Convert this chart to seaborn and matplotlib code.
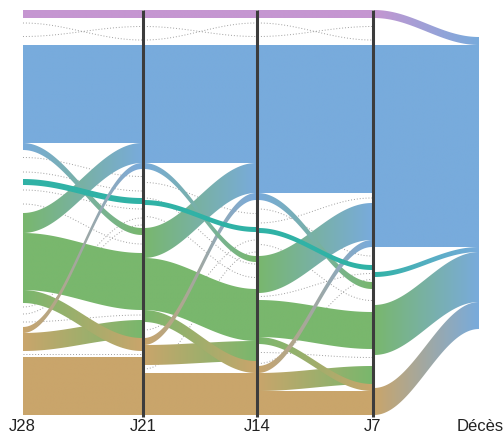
import numpy as np
import matplotlib
matplotlib.use("Agg")
import matplotlib.pyplot as plt
from matplotlib.patches import Polygon
import seaborn as sns

# time points (axes of the alluvial plot)
time_labels = ["J28", "J21", "J14", "J7", "Décès"]

# states, stacked top to bottom on each axis
states = ["violet", "bleu", "turquoise", "vert", "ocre", "Décès", "Survie"]
state_colors = ["#C596D1", "#78ABDC", "#30B2A6", "#79B76D", "#C9A56B", "#78ABDC", "#FFFFFF"]

# flows between two time points: (from, to, patients, main flow)
# minor flows (0) are only drawn as a thin dotted line
flows_j28_j21 = [
    ("violet", "violet", 8, 1), ("violet", "bleu", 10, 0),
    ("bleu", "violet", 17, 0), ("bleu", "bleu", 98, 1), ("bleu", "vert", 7, 1), ("bleu", "turquoise", 15, 0),
    ("turquoise", "turquoise", 14, 0), ("turquoise", "turquoise", 6, 1), ("turquoise", "turquoise", 10, 0),
    ("turquoise", "vert", 18, 0),
    ("vert", "bleu", 20, 1), ("vert", "vert", 57, 1), ("vert", "ocre", 13, 1), ("vert", "turquoise", 8, 0),
    ("ocre", "turquoise", 6, 0), ("ocre", "vert", 10, 0), ("ocre", "bleu", 6, 1), ("ocre", "vert", 18, 1),
    ("ocre", "ocre", 6, 0), ("ocre", "ocre", 58, 1),
]
flows_j21_j14 = [
    ("violet", "violet", 8, 1), ("violet", "bleu", 17, 0),
    ("bleu", "violet", 10, 0), ("bleu", "bleu", 118, 1), ("bleu", "vert", 6, 1),
    ("turquoise", "turquoise", 27, 0), ("turquoise", "vert", 4, 0), ("turquoise", "turquoise", 5, 1),
    ("turquoise", "vert", 23, 0),
    ("vert", "bleu", 30, 1), ("vert", "vert", 52, 1), ("vert", "ocre", 12, 1), ("vert", "turquoise", 16, 0),
    ("ocre", "bleu", 7, 1), ("ocre", "vert", 20, 1), ("ocre", "turquoise", 8, 0), ("ocre", "ocre", 42, 1),
]
flows_j14_j7 = [
    ("violet", "violet", 8, 1), ("violet", "bleu", 10, 0),
    ("bleu", "violet", 17, 0), ("bleu", "bleu", 148, 1), ("bleu", "vert", 7, 1),
    ("turquoise", "turquoise", 18, 0), ("turquoise", "bleu", 10, 0), ("turquoise", "turquoise", 5, 1),
    ("turquoise", "vert", 23, 0),
    ("vert", "bleu", 37, 1), ("vert", "turquoise", 7, 0), ("vert", "vert", 37, 1), ("vert", "ocre", 7, 1),
    ("vert", "vert", 17, 0),
    ("ocre", "turquoise", 5, 0), ("ocre", "bleu", 7, 1), ("ocre", "vert", 18, 1), ("ocre", "ocre", 24, 1),
]
flows_j7_deces = [
    ("violet", "Décès", 8, 1), ("violet", "Survie", 17, 0),
    ("bleu", "Survie", 10, 0), ("bleu", "Décès", 202, 1),
    ("turquoise", "Survie", 25, 0), ("turquoise", "Décès", 5, 1), ("turquoise", "Survie", 5, 0),
    ("vert", "Survie", 23, 0), ("vert", "Décès", 50, 1), ("vert", "Survie", 29, 0),
    ("ocre", "Survie", 4, 0), ("ocre", "Décès", 27, 1),
]
segments = [flows_j28_j21, flows_j21_j14, flows_j14_j7, flows_j7_deces]

# layout
axis_x = [22, 143, 257, 373, 480]
deces_top = 27

sns.set_theme(style="white")
plt.rcParams["font.family"] = ["Liberation Sans", "DejaVu Sans"]
fig = plt.figure(figsize=(5.04, 4.38), dpi=100)
ax = fig.add_axes([0, 20 / 438, 1, 418 / 438])

rank = {s: i for i, s in enumerate(states)}
color = dict(zip(states, state_colors))


def stack(flows, key, start=0):
    order = sorted(range(len(flows)), key=key)
    pos, y = {}, start
    for i in order:
        pos[i] = y
        y += flows[i][2]
    return pos


t = np.linspace(0, 1, 80)
s = (1 - np.cos(np.pi * t)) / 2

for k, flows in enumerate(segments):
    left = stack(flows, lambda i: (rank[flows[i][0]], i))
    right = stack(flows, lambda i: (rank[flows[i][1]], rank[flows[i][0]], i),
                  start=deces_top if k == 3 else 0)
    x = axis_x[k] + 1 + (axis_x[k + 1] - axis_x[k] - 2) * t
    # minor flows first, then main flows from widest to thinnest
    for i, (src, dst, n, main) in enumerate(flows):
        if main or dst == "Survie":
            continue
        ymid = left[i] + (right[i] - left[i]) * s + n / 2
        ax.plot(x, ymid, ls=(0, (1, 2)), lw=0.7, color="#8f8f8f", alpha=0.85, zorder=1)
    main_idx = sorted([i for i, f in enumerate(flows) if f[3]], key=lambda i: -flows[i][2])
    for z, i in enumerate(main_idx):
        src, dst, n, _ = flows[i]
        ytop = left[i] + (right[i] - left[i]) * s
        ybot = ytop + n
        verts = np.concatenate([np.column_stack([x, ytop]), np.column_stack([x[::-1], ybot[::-1]])])
        patch = Polygon(verts, closed=True, facecolor="none", edgecolor="none")
        ax.add_patch(patch)
        grad = np.array(sns.blend_palette([color[src], color[dst]], n_colors=256))[np.newaxis, :, :]
        img = ax.imshow(grad, extent=[x[0], x[-1], ybot.max(), ytop.min()], aspect="auto",
                        interpolation="bilinear", zorder=2 + z * 0.01)
        img.set_clip_path(patch)

ax.vlines(axis_x[1:4], 0, 407, colors="#3c3c3c", lw=2.2, zorder=5)

ax.set_xlim(0, 504)
ax.set_ylim(408, -10)
ax.set_xticks(axis_x)
ax.set_xticklabels(time_labels)
ax.set_yticks([])
ax.tick_params(axis="x", length=0, pad=1, labelsize=12, labelcolor="#222222")
sns.despine(ax=ax, left=True, bottom=True)
ax.grid(False)

fig.savefig("out.png", dpi=100)
